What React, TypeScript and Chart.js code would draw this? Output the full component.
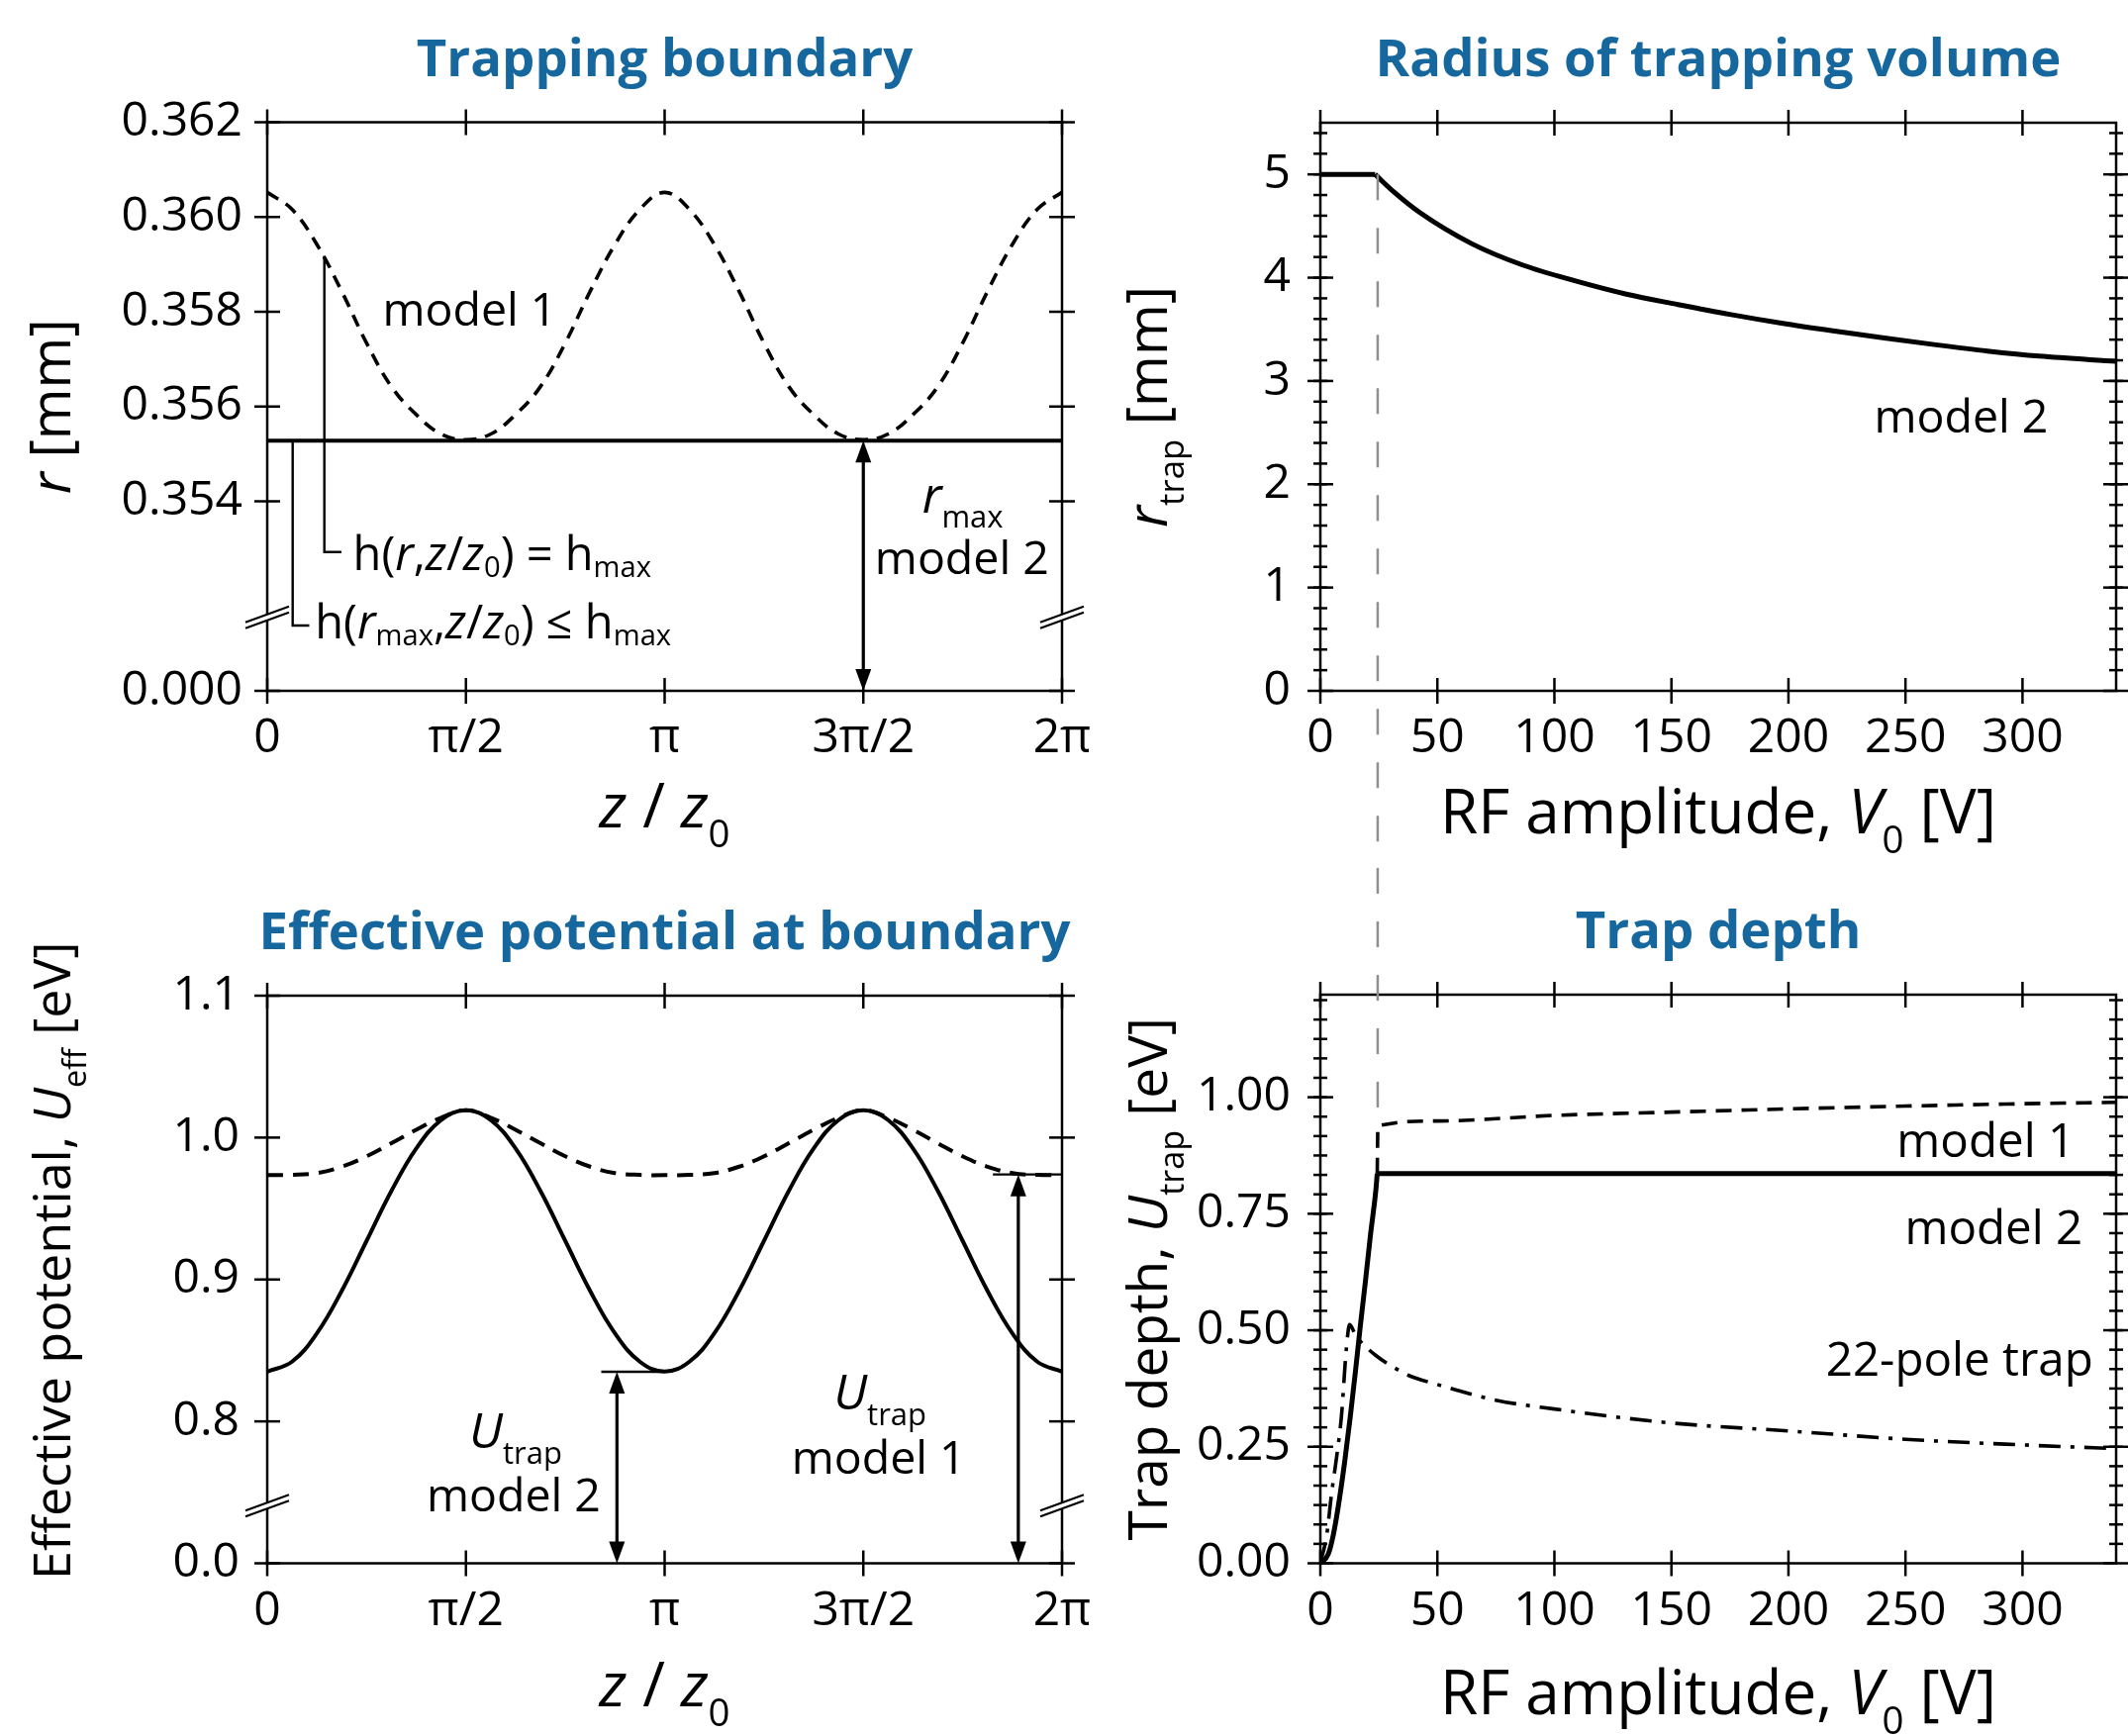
import React, { useEffect, useRef } from "react";
import { Chart, registerables } from "chart.js";

Chart.register(...registerables);

const FONT = '"Open Sans", "DejaVu Sans", sans-serif';
const TITLE_COLOR = "#16679d";
const NOTE_SIZE = 46.5;

// ---------------- Data ----------------
// z / z0 in units of pi
const Z_PI = [0, 0.0625, 0.125, 0.1875, 0.25, 0.3125, 0.375, 0.4375, 0.5, 0.5625, 0.625, 0.6875, 0.75, 0.8125, 0.875, 0.9375, 1,
  1.0625, 1.125, 1.1875, 1.25, 1.3125, 1.375, 1.4375, 1.5, 1.5625, 1.625, 1.6875, 1.75, 1.8125, 1.875, 1.9375, 2];
// Trapping boundary r [mm] (0.350 internal = broken-axis "0.000")
const R_MODEL1 = [0.36052, 0.36016, 0.35942, 0.35843, 0.35734, 0.35642, 0.35583, 0.35542, 0.3553, 0.35542, 0.35583, 0.35642, 0.35734, 0.35843, 0.35942, 0.36016, 0.36052,
  0.36016, 0.35942, 0.35843, 0.35734, 0.35642, 0.35583, 0.35542, 0.3553, 0.35542, 0.35583, 0.35642, 0.35734, 0.35843, 0.35942, 0.36016, 0.36052];
const Z_ENDS = [0, 2];
const R_MODEL2 = [0.35528, 0.35528];
// Effective potential at boundary [eV] (0.7 internal = broken-axis "0.0")
const U_EFF_MODEL2 = [0.8351, 0.8421, 0.8621, 0.892, 0.9272, 0.9624, 0.9923, 1.0123, 1.0193, 1.0123, 0.9923, 0.9624, 0.9272, 0.892, 0.8621, 0.8421, 0.8351,
  0.8421, 0.8621, 0.892, 0.9272, 0.9624, 0.9923, 1.0123, 1.0193, 1.0123, 0.9923, 0.9624, 0.9272, 0.892, 0.8621, 0.8421, 0.8351];
const U_EFF_MODEL1 = [0.9735, 0.9737, 0.975, 0.9795, 0.9868, 0.996, 1.0055, 1.014, 1.0193, 1.014, 1.0055, 0.996, 0.9868, 0.9795, 0.975, 0.9737, 0.9735,
  0.9737, 0.975, 0.9795, 0.9868, 0.996, 1.0055, 1.014, 1.0193, 1.014, 1.0055, 0.996, 0.9868, 0.9795, 0.975, 0.9737, 0.9735];
// Radius of trapping volume (flat part, then decay from the kink)
const V_RTRAP_FLAT = [0, 23.4];
const R_TRAP_FLAT = [5, 5];
const V_RTRAP = [23.4, 31.4, 42.5, 64.6, 86.7, 108.7, 130.8, 152.8, 174.9, 197, 219, 241, 263, 285, 307, 340];
const R_TRAP = [5, 4.83, 4.63, 4.33, 4.12, 3.97, 3.84, 3.74, 3.645, 3.56, 3.485, 3.415, 3.35, 3.29, 3.24, 3.19];
// Trap depth
const V_DEPTH2 = [0, 3.4, 5.5, 7.6, 10.4, 12.8, 15, 17.1, 19.3, 21.4, 23.7, 24.3];
const U_DEPTH2 = [0, 0.02, 0.06, 0.12, 0.218, 0.315, 0.412, 0.51, 0.607, 0.704, 0.8, 0.836];
const V_DEPTH2_FLAT = [24.3, 340];
const U_DEPTH2_FLAT = [0.836, 0.836];
const V_DEPTH1 = [24.3, 24.6, 50, 100, 150, 200, 250, 300, 340];
const U_DEPTH1 = [0.836, 0.938, 0.949, 0.961, 0.968, 0.975, 0.981, 0.986, 0.989];
const V_POLE = [0, 2.7, 4.8, 7, 9, 11.1, 12.5, 15, 18.1, 23.7, 30.8, 37.8, 49, 75, 100, 150, 200, 250, 300, 340];
const U_POLE = [0, 0.06, 0.15, 0.23, 0.315, 0.46, 0.512, 0.49, 0.471, 0.446, 0.422, 0.403, 0.385, 0.35, 0.331, 0.301, 0.284, 0.266, 0.254, 0.246];
const V_KINK = 24.5;

// ---------------- Ticks ----------------
const Z_TICKS = [0, 0.5, 1, 1.5, 2];
const Z_TICK_LABELS = ["0", "π/2", "π", "3π/2", "2π"];
const R_TICKS = [0.35, 0.354, 0.356, 0.358, 0.36, 0.362];
const R_TICK_LABELS = ["0.000", "0.354", "0.356", "0.358", "0.360", "0.362"];
const U_TICKS = [0.7, 0.8, 0.9, 1.0, 1.1];
const U_TICK_LABELS = ["0.0", "0.8", "0.9", "1.0", "1.1"];
const V_TICKS = [0, 50, 100, 150, 200, 250, 300];
const V_TICK_LABELS = ["0", "50", "100", "150", "200", "250", "300"];
const RT_TICKS = [0, 1, 2, 3, 4, 5];
const RT_TICK_LABELS = ["0", "1", "2", "3", "4", "5"];
const D_TICKS = [0, 0.25, 0.5, 0.75, 1.0];
const D_TICK_LABELS = ["0.00", "0.25", "0.50", "0.75", "1.00"];

function steps(step: number, max: number) {
  const out: number[] = [];
  for (let i = 1; i * step < max - 1e-9; i++) out.push(i * step);
  return out;
}

type Seg = { t: string; i?: boolean; sub?: boolean; dy?: number };

function pts(xs: number[], ys: number[]) {
  return xs.map((x, i) => ({ x, y: ys[i] }));
}

function drawRich(ctx: CanvasRenderingContext2D, segs: Seg[], x: number, y: number, size: number,
  align: "left" | "center" | "right", color = "#000", bold = false, subDy = 0.25) {
  const parts = segs.map((s) => {
    const sz = s.sub ? size * 0.62 : size;
    const font = `${s.i ? "italic " : ""}${bold ? "bold " : ""}${sz}px ${FONT}`;
    ctx.font = font;
    return { t: s.t, font, w: ctx.measureText(s.t).width, dy: s.sub ? size * (s.dy ?? subDy) : 0 };
  });
  const total = parts.reduce((a, p) => a + p.w, 0);
  let cx = align === "left" ? x : align === "center" ? x - total / 2 : x - total;
  ctx.fillStyle = color;
  ctx.textBaseline = "alphabetic";
  ctx.textAlign = "left";
  for (const p of parts) {
    ctx.font = p.font;
    ctx.fillText(p.t, cx, y + p.dy);
    cx += p.w;
  }
}

type TextSpec = { x: number; y: number; segs: Seg[]; align: "left" | "center" | "right"; size?: number };
type Decor = {
  xMajor: number[]; yMajor: number[]; yMinor?: number[];
  breakY?: number;
  polylines?: number[][][];
  arrows?: { x: number; y1: number; y2: number }[];
  texts?: TextSpec[];
  title: string; titleDy: number;
  xTitle: Seg[]; xTitleDy: number; xTitleSize: number;
  yTitle: Seg[]; yTitleDx: number; yTitleDy: number; yTitleSize: number;
  gray?: { x: number; from: "value" | "top"; y: number };
};

function line(ctx: CanvasRenderingContext2D, x1: number, y1: number, x2: number, y2: number) {
  ctx.beginPath();
  ctx.moveTo(x1, y1);
  ctx.lineTo(x2, y2);
  ctx.stroke();
}

function drawFrame(chart: any, d: Decor) {
  const ctx: CanvasRenderingContext2D = chart.ctx;
  const a = chart.chartArea;
  const xs = chart.scales.x;
  const ys = chart.scales.y;
  const L = 13, Lm = 7;
  ctx.save();
  ctx.strokeStyle = "#000";
  ctx.lineWidth = 2.5;
  ctx.setLineDash([]);
  ctx.strokeRect(a.left, a.top, a.right - a.left, a.bottom - a.top);
  for (const v of d.xMajor) {
    const p = xs.getPixelForValue(v);
    line(ctx, p, a.top - L, p, a.top + L);
    line(ctx, p, a.bottom - L, p, a.bottom + L);
  }
  for (const v of d.yMajor) {
    const p = ys.getPixelForValue(v);
    line(ctx, a.left - L, p, a.left + L, p);
    line(ctx, a.right - L, p, a.right + L, p);
  }
  for (const v of d.yMinor || []) {
    const p = ys.getPixelForValue(v);
    line(ctx, a.left - Lm, p, a.left + Lm, p);
    line(ctx, a.right - Lm, p, a.right + Lm, p);
  }
  ctx.restore();
}

function arrowHead(ctx: CanvasRenderingContext2D, x: number, tipY: number, dir: number) {
  const hl = 22, hw = 8;
  ctx.beginPath();
  ctx.moveTo(x, tipY);
  ctx.lineTo(x - hw, tipY + dir * hl);
  ctx.lineTo(x + hw, tipY + dir * hl);
  ctx.closePath();
  ctx.fill();
}

function drawDecor(chart: any, d: Decor) {
  const ctx: CanvasRenderingContext2D = chart.ctx;
  const a = chart.chartArea;
  const xs = chart.scales.x;
  const ys = chart.scales.y;
  ctx.save();
  ctx.strokeStyle = "#000";
  ctx.fillStyle = "#000";
  ctx.setLineDash([]);

  // axis breaks
  if (d.breakY !== undefined) {
    const by = ys.getPixelForValue(d.breakY);
    for (const ax of [a.left, a.right]) {
      ctx.fillStyle = "#fff";
      ctx.beginPath();
      ctx.moveTo(ax - 22, by + 8 - 3);
      ctx.lineTo(ax + 22, by - 8 - 3);
      ctx.lineTo(ax + 22, by - 8 + 3);
      ctx.lineTo(ax - 22, by + 8 + 3);
      ctx.closePath();
      ctx.fill();
      ctx.lineWidth = 2.2;
      line(ctx, ax - 22, by + 8 - 3, ax + 22, by - 8 - 3);
      line(ctx, ax - 22, by + 8 + 3, ax + 22, by - 8 + 3);
    }
    ctx.fillStyle = "#000";
  }

  // annotation polylines
  ctx.lineWidth = 2.4;
  for (const pl of d.polylines || []) {
    ctx.beginPath();
    pl.forEach(([vx, vy], i) => {
      const px = xs.getPixelForValue(vx), py = ys.getPixelForValue(vy);
      if (i === 0) ctx.moveTo(px, py); else ctx.lineTo(px, py);
    });
    ctx.stroke();
  }
  // double arrows
  for (const ar of d.arrows || []) {
    const px = xs.getPixelForValue(ar.x);
    const p1 = ys.getPixelForValue(ar.y1); // upper
    const p2 = ys.getPixelForValue(ar.y2); // lower
    ctx.lineWidth = 3.2;
    line(ctx, px, p1 + 10, px, p2 - 10);
    arrowHead(ctx, px, p1, 1);
    arrowHead(ctx, px, p2, -1);
  }
  // texts
  for (const t of d.texts || []) {
    drawRich(ctx, t.segs, xs.getPixelForValue(t.x), ys.getPixelForValue(t.y), t.size || NOTE_SIZE, t.align);
  }
  // gray guide line
  if (d.gray) {
    const px = xs.getPixelForValue(d.gray.x);
    ctx.strokeStyle = "#8f8f8f";
    ctx.lineWidth = 2.5;
    ctx.setLineDash([26, 28]);
    if (d.gray.from === "value") line(ctx, px, ys.getPixelForValue(d.gray.y), px, chart.height);
    else line(ctx, px, 0, px, ys.getPixelForValue(d.gray.y));
    ctx.setLineDash([]);
  }
  // title
  const cx = (a.left + a.right) / 2;
  ctx.font = `bold 52.7px ${FONT}`;
  ctx.fillStyle = TITLE_COLOR;
  ctx.textAlign = "center";
  ctx.textBaseline = "alphabetic";
  ctx.fillText(d.title, cx, a.top + d.titleDy);
  // x title
  drawRich(ctx, d.xTitle, cx, a.bottom + d.xTitleDy, d.xTitleSize, "center", "#000", false, 0.33);
  // y title (rotated)
  ctx.save();
  ctx.translate(a.left + d.yTitleDx, (a.top + a.bottom) / 2 + d.yTitleDy);
  ctx.rotate(-Math.PI / 2);
  drawRich(ctx, d.yTitle, 0, 0, d.yTitleSize, "center", "#000", false, 0.3);
  ctx.restore();
  ctx.restore();
}

type PanelCfg = {
  datasets: any[];
  xMin: number; xMax: number; yMin: number; yMax: number;
  xTicks: number[]; xLabels: string[]; yTicks: number[]; yLabels: string[];
  xPad: number; yPad: number;
  padding: { left: number; right: number; top: number; bottom: number };
  decor: Decor;
};

function makeChart(canvas: HTMLCanvasElement, cfg: PanelCfg) {
  const tickFont = { family: FONT, size: 48, lineHeight: 1.2 };
  return new Chart(canvas, {
    type: "line",
    data: { datasets: cfg.datasets },
    options: {
      responsive: false,
      animation: false,
      devicePixelRatio: 1,
      events: [],
      layout: { padding: cfg.padding },
      plugins: { legend: { display: false }, tooltip: { enabled: false }, title: { display: false } },
      elements: { point: { radius: 0 } },
      scales: {
        x: {
          type: "linear", position: "bottom", min: cfg.xMin, max: cfg.xMax,
          afterBuildTicks: (s: any) => { s.ticks = cfg.xTicks.map((v) => ({ value: v })); },
          afterFit: (s: any) => { s.height = 100; },
          grid: { display: false, drawTicks: false },
          border: { display: false },
          ticks: {
            autoSkip: false, maxRotation: 0, minRotation: 0, padding: cfg.xPad, color: "#000", font: tickFont,
            callback: (_v: any, i: number) => cfg.xLabels[i],
          },
        },
        y: {
          type: "linear", position: "left", min: cfg.yMin, max: cfg.yMax,
          afterBuildTicks: (s: any) => { s.ticks = cfg.yTicks.map((v) => ({ value: v })); },
          afterFit: (s: any) => { s.width = 150; },
          grid: { display: false, drawTicks: false },
          border: { display: false },
          ticks: {
            autoSkip: false, padding: cfg.yPad, color: "#000", font: tickFont,
            callback: (_v: any, i: number) => cfg.yLabels[i],
          },
        },
      },
    } as any,
    plugins: [
      {
        id: "decor",
        beforeDatasetsDraw(chart: any) { drawFrame(chart, cfg.decor); },
        afterDraw(chart: any) { drawDecor(chart, cfg.decor); },
      },
    ],
  });
}

const base = { fill: false, pointRadius: 0, borderColor: "#000" };

const X_TITLE_Z: Seg[] = [{ t: "z", i: true }, { t: " / " }, { t: "z", i: true }, { t: "0", sub: true }];
const X_TITLE_V: Seg[] = [{ t: "RF amplitude, " }, { t: "V", i: true }, { t: "0", sub: true }, { t: " [V]" }];
const H_EQ: Seg[] = [{ t: "h(" }, { t: "r", i: true }, { t: "," }, { t: "z", i: true }, { t: "/" }, { t: "z", i: true }, { t: "0", sub: true, dy: 0.15 }, { t: ") = h" }, { t: "max", sub: true, dy: 0.15 }];
const H_LE: Seg[] = [{ t: "h(" }, { t: "r", i: true }, { t: "max", sub: true, dy: 0.15 }, { t: "," }, { t: "z", i: true }, { t: "/" }, { t: "z", i: true }, { t: "0", sub: true, dy: 0.15 }, { t: ") ≤ h" }, { t: "max", sub: true, dy: 0.15 }];
const U_TRAP: Seg[] = [{ t: "U", i: true }, { t: "trap", sub: true, dy: 0.32 }];

function panelTL(): PanelCfg {
  return {
    datasets: [
      { ...base, data: pts(Z_ENDS, R_MODEL2), borderWidth: 4, tension: 0 },
      { ...base, data: pts(Z_PI, R_MODEL1), borderWidth: 3.6, borderDash: [13, 9], tension: 0.4 },
    ],
    xMin: 0, xMax: 2, yMin: 0.35, yMax: 0.362,
    xTicks: Z_TICKS, xLabels: Z_TICK_LABELS, yTicks: R_TICKS, yLabels: R_TICK_LABELS,
    xPad: 20, yPad: 25,
    padding: { left: 120, right: 77, top: 123.5, bottom: 79 },
    decor: {
      xMajor: Z_TICKS, yMajor: R_TICKS, breakY: 0.35155,
      polylines: [
        [[0.1437, 0.35918], [0.1437, 0.35293], [0.1868, 0.35293]],
        [[0.064, 0.35528], [0.064, 0.35138], [0.1058, 0.35138]],
      ],
      arrows: [{ x: 1.5, y1: 0.35528, y2: 0.35 }],
      texts: [
        { x: 0.29, y: 0.35771, segs: [{ t: "model 1" }], align: "left" },
        { x: 0.2157, y: 0.35254, segs: H_EQ, align: "left", size: 47 },
        { x: 0.1203, y: 0.35111, segs: H_LE, align: "left", size: 47 },
        { x: 1.75, y: 0.35376, segs: [{ t: "r", i: true, }, { t: "max", sub: true, dy: 0.3 }], align: "center", size: 50 },
        { x: 1.748, y: 0.35247, segs: [{ t: "model 2" }], align: "center" },
      ],
      title: "Trapping boundary", titleDy: -47,
      xTitle: X_TITLE_Z, xTitleDy: 138, xTitleSize: 62,
      yTitle: [{ t: "r", i: true }, { t: " [mm]" }], yTitleDx: -199, yTitleDy: 0, yTitleSize: 56,
    },
  };
}

function panelTR(): PanelCfg {
  return {
    datasets: [
      { ...base, data: pts(V_RTRAP_FLAT, R_TRAP_FLAT), borderWidth: 5, tension: 0 },
      { ...base, data: pts(V_RTRAP, R_TRAP), borderWidth: 5, cubicInterpolationMode: "monotone" },
    ],
    xMin: 0, xMax: 340, yMin: 0, yMax: 5.5,
    xTicks: V_TICKS, xLabels: V_TICK_LABELS, yTicks: RT_TICKS, yLabels: RT_TICK_LABELS,
    xPad: 20, yPad: 30,
    padding: { left: 134, right: 12, top: 124, bottom: 79 },
    decor: {
      xMajor: V_TICKS, yMajor: RT_TICKS, yMinor: steps(0.2, 5.5),
      texts: [{ x: 311, y: 2.5, segs: [{ t: "model 2" }], align: "right" }],
      gray: { x: V_KINK, from: "value", y: 5.0 },
      title: "Radius of trapping volume", titleDy: -47,
      xTitle: X_TITLE_V, xTitleDy: 144, xTitleSize: 62,
      yTitle: [{ t: "r", i: true }, { t: "trap", sub: true }, { t: " [mm]" }], yTitleDx: -155, yTitleDy: 0, yTitleSize: 56,
    },
  };
}

function panelBL(): PanelCfg {
  return {
    datasets: [
      { ...base, data: pts(Z_PI, U_EFF_MODEL2), borderWidth: 4, tension: 0.4 },
      { ...base, data: pts(Z_PI, U_EFF_MODEL1), borderWidth: 4, borderDash: [16, 10], tension: 0.4 },
    ],
    xMin: 0, xMax: 2, yMin: 0.7, yMax: 1.1,
    xTicks: Z_TICKS, xLabels: Z_TICK_LABELS, yTicks: U_TICKS, yLabels: U_TICK_LABELS,
    xPad: 20, yPad: 28,
    padding: { left: 120, right: 77, top: 129, bottom: 74.5 },
    decor: {
      xMajor: Z_TICKS, yMajor: U_TICKS, breakY: 0.7406,
      polylines: [
        [[0.8406, 0.835], [1.0, 0.835]],
        [[1.826, 0.974], [2.0, 0.974]],
      ],
      arrows: [{ x: 0.88, y1: 0.835, y2: 0.7 }, { x: 1.89, y1: 0.974, y2: 0.7 }],
      texts: [
        { x: 0.625, y: 0.7814, segs: U_TRAP, align: "center", size: 50 },
        { x: 0.62, y: 0.7367, segs: [{ t: "model 2" }], align: "center" },
        { x: 1.542, y: 0.8087, segs: U_TRAP, align: "center", size: 50 },
        { x: 1.5385, y: 0.7632, segs: [{ t: "model 1" }], align: "center" },
      ],
      title: "Effective potential at boundary", titleDy: -47,
      xTitle: X_TITLE_Z, xTitleDy: 144, xTitleSize: 62,
      yTitle: [{ t: "Effective potential, " }, { t: "U", i: true }, { t: "eff", sub: true }, { t: " [eV]" }], yTitleDx: -199, yTitleDy: -19, yTitleSize: 52,
    },
  };
}

function panelBR(): PanelCfg {
  return {
    datasets: [
      { ...base, data: pts(V_DEPTH2, U_DEPTH2), borderWidth: 5, cubicInterpolationMode: "monotone" },
      { ...base, data: pts(V_DEPTH2_FLAT, U_DEPTH2_FLAT), borderWidth: 5, tension: 0 },
      { ...base, data: pts(V_DEPTH1, U_DEPTH1), borderWidth: 3.6, borderDash: [16, 10], cubicInterpolationMode: "monotone" },
      { ...base, data: pts(V_POLE, U_POLE), borderWidth: 3.6, borderDash: [22, 10, 4, 10], cubicInterpolationMode: "monotone" },
    ],
    xMin: 0, xMax: 340, yMin: 0, yMax: 1.22,
    xTicks: V_TICKS, xLabels: V_TICK_LABELS, yTicks: D_TICKS, yLabels: D_TICK_LABELS,
    xPad: 20, yPad: 30,
    padding: { left: 134, right: 12, top: 128, bottom: 74.5 },
    decor: {
      xMajor: V_TICKS, yMajor: D_TICKS, yMinor: steps(0.25 / 6, 1.22),
      texts: [
        { x: 322.3, y: 0.871, segs: [{ t: "model 1" }], align: "right", size: 47.5 },
        { x: 325.7, y: 0.6853, segs: [{ t: "model 2" }], align: "right", size: 47.5 },
        { x: 330.2, y: 0.4018, segs: [{ t: "22-pole trap" }], align: "right", size: 47.5 },
      ],
      gray: { x: V_KINK, from: "top", y: 0.94 },
      title: "Trap depth", titleDy: -47,
      xTitle: X_TITLE_V, xTitleDy: 152, xTitleSize: 62,
      yTitle: [{ t: "Trap depth, " }, { t: "U", i: true }, { t: "trap", sub: true }, { t: " [eV]" }], yTitleDx: -155, yTitleDy: 0, yTitleSize: 55,
    },
  };
}

const PANELS = [
  { left: 0, top: 0, w: 1150, h: 877, make: panelTL },
  { left: 1050, top: 0, w: 1100, h: 877, make: panelTR },
  { left: 0, top: 877, w: 1150, h: 877, make: panelBL },
  { left: 1050, top: 877, w: 1100, h: 877, make: panelBR },
];

export default function App() {
  const refs = useRef<(HTMLCanvasElement | null)[]>([]);
  useEffect(() => {
    const charts = PANELS.map((p, i) => makeChart(refs.current[i] as HTMLCanvasElement, p.make()));
    return () => charts.forEach((c) => c.destroy());
  }, []);
  return (
    <div style={{ position: "absolute", left: 0, top: 0, width: 2150, height: 1754, background: "#fff", overflow: "hidden" }}>
      {PANELS.map((p, i) => (
        <canvas
          key={i}
          ref={(el) => { refs.current[i] = el; }}
          width={p.w}
          height={p.h}
          style={{ position: "absolute", left: p.left, top: p.top, width: p.w, height: p.h }}
        />
      ))}
    </div>
  );
}
